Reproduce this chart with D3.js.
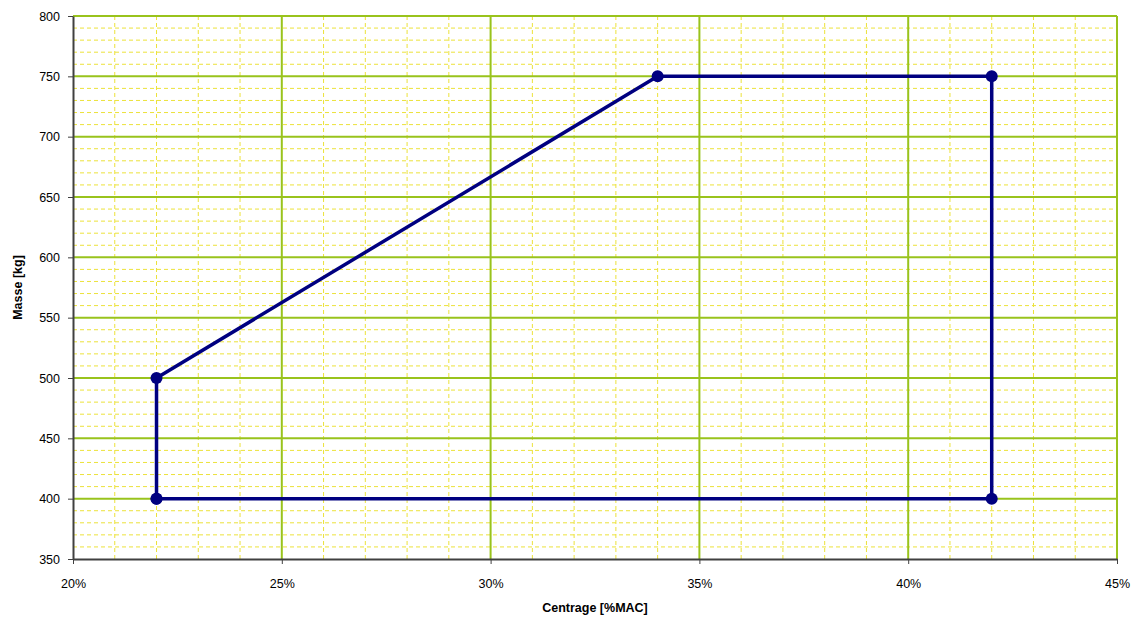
<!DOCTYPE html>
<html><head><meta charset="utf-8">
<script src="https://cdn.jsdelivr.net/npm/d3@7"></script>
<style>body{margin:0;background:#fff;}text{font-family:"Liberation Sans",Arial,sans-serif;}</style>
</head><body>
<svg id="c" width="1138" height="621"></svg>
<script>
const xValues = [22, 22, 34, 42, 42, 22];
const yValues = [400, 500, 750, 750, 400, 400];
const xTicks = [20, 25, 30, 35, 40, 45];
const yTicks = [350, 400, 450, 500, 550, 600, 650, 700, 750, 800];
const xTitle = "Centrage [%MAC]";
const yTitle = "Masse [kg]";

const svg = d3.select("#c");
const L = 73, R = 1117, T = 16, B = 559;
const x = d3.scaleLinear().domain([20, 45]).range([L, R]);
const y = d3.scaleLinear().domain([350, 800]).range([B, T]);

const g = svg.append("g");
// minor grid
const xMinor = d3.range(20, 45.01, 1).filter(v => v % 5 !== 0);
const yMinor = d3.range(350, 800.01, 10).filter(v => v % 50 !== 0);
g.selectAll(".ymin").data(yMinor).join("line")
  .attr("x1", L).attr("x2", R).attr("y1", d => y(d)).attr("y2", d => y(d))
  .attr("stroke", "#ece23a").attr("stroke-width", 1).attr("stroke-dasharray", "4,3");
g.selectAll(".xmin").data(xMinor).join("line")
  .attr("y1", T).attr("y2", B).attr("x1", d => x(d)).attr("x2", d => x(d))
  .attr("stroke", "#ece23a").attr("stroke-width", 1).attr("stroke-dasharray", "4,3");
// major grid
g.selectAll(".ymaj").data(yTicks.filter(v => v !== 350)).join("line")
  .attr("x1", L).attr("x2", R).attr("y1", d => y(d)).attr("y2", d => y(d))
  .attr("stroke", "#99c31c").attr("stroke-width", 2);
g.selectAll(".xmaj").data(xTicks.filter(v => v !== 20)).join("line")
  .attr("y1", T).attr("y2", B).attr("x1", d => x(d)).attr("x2", d => x(d))
  .attr("stroke", "#99c31c").attr("stroke-width", 2);

// axes
const ya = svg.append("g").attr("transform", `translate(${L},0)`)
  .call(d3.axisLeft(y).tickValues(yTicks).tickSize(5).tickPadding(8).tickSizeOuter(0));
const xa = svg.append("g").attr("transform", `translate(0,${B})`)
  .call(d3.axisBottom(x).tickValues(xTicks).tickFormat(d => d + "%").tickSize(5).tickPadding(15).tickSizeOuter(0));
[ya, xa].forEach(a => {
  a.select(".domain").attr("stroke", "#404040").attr("stroke-width", 2);
  a.selectAll(".tick line").attr("stroke", "#404040");
  a.selectAll("text").attr("font-size", 12.5).attr("fill", "#000");
});

// data
const pts = xValues.map((v, i) => [v, yValues[i]]);
svg.append("path").datum(pts)
  .attr("d", d3.line().x(d => x(d[0])).y(d => y(d[1])))
  .attr("fill", "none").attr("stroke", "#000080").attr("stroke-width", 3.5);
svg.selectAll(".pt").data(pts).join("circle")
  .attr("cx", d => x(d[0])).attr("cy", d => y(d[1])).attr("r", 6).attr("fill", "#000080");

// titles
svg.append("text").attr("x", (L + R) / 2).attr("y", 612).attr("text-anchor", "middle")
  .attr("font-size", 12.5).attr("font-weight", "bold").text(xTitle);
svg.append("text").attr("transform", `translate(22,${(T + B) / 2}) rotate(-90)`).attr("text-anchor", "middle")
  .attr("font-size", 12.5).attr("font-weight", "bold").text(yTitle);
</script>
</body></html>
